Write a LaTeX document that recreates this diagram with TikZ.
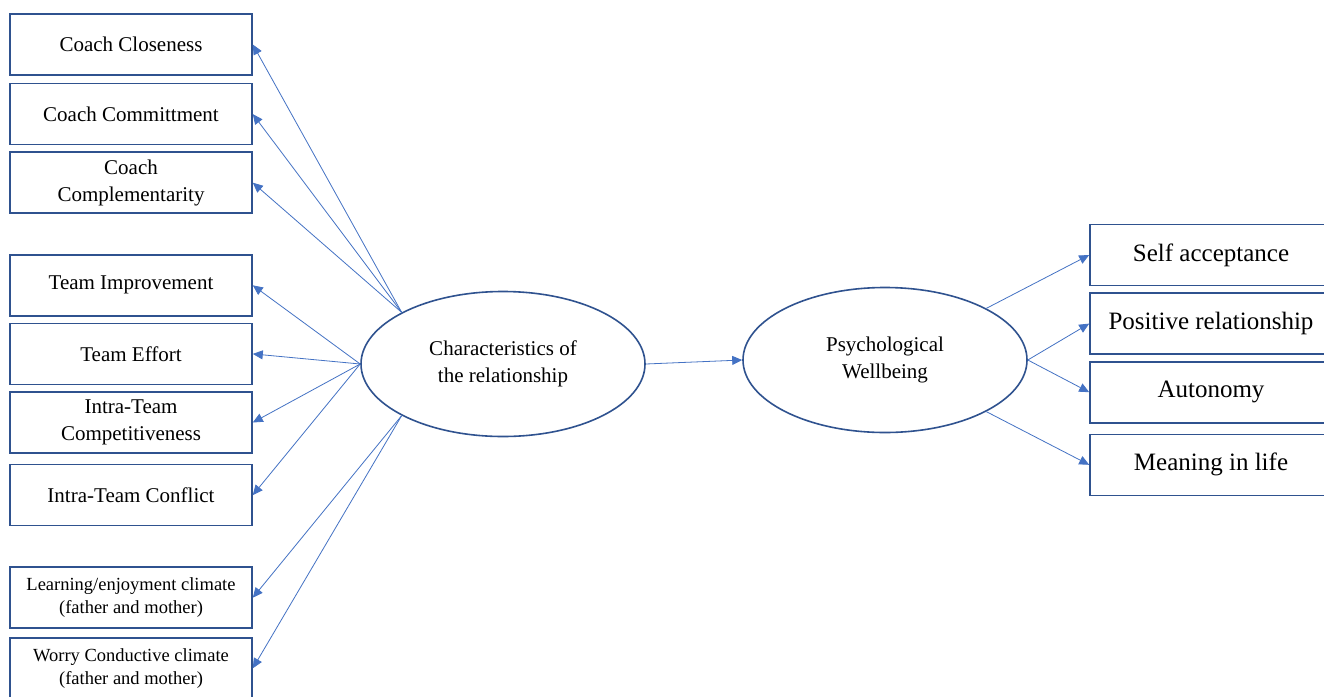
\documentclass[tikz,border=0pt]{standalone}
\usepackage{fontspec}
\setmainfont{Liberation Serif}
\usetikzlibrary{arrows.meta,positioning,shapes.geometric}
\definecolor{bdark}{HTML}{2F528F}
\definecolor{bline}{HTML}{4472C4}
\tikzset{
  box/.style={draw=bdark,fill=white,line width=1.6pt,minimum width=242pt,minimum height=61pt,inner sep=2pt,align=center,font=\fontsize{21}{27}\selectfont},
  rbox/.style={box,font=\fontsize{25}{30}\selectfont},
  sbox/.style={box,font=\fontsize{18.5}{23}\selectfont},
  lat/.style={ellipse,draw=bdark,fill=white,line width=1.6pt,minimum width=284pt,minimum height=145pt,inner sep=0pt,align=center,font=\fontsize{21}{27}\selectfont},
  arr/.style={-{Triangle[length=10pt,width=9pt]},line width=0.8pt,draw=bline},
}
\begin{document}
\begin{tikzpicture}[x=1pt,y=-1pt]
  \fill[white] (0,0) rectangle (1324,696);
  \useasboundingbox (0,0) rectangle (1324,696);
  % left side
  \node[box] (cc) at (131,44.5) {Coach Closeness};
  \node[box,below=7pt of cc] (cm) {Coach Committment};
  \node[box,below=6pt of cm] (cp) {Coach\\Complementarity};
  \node[box,below=40pt of cp] (ti) {Team Improvement};
  \node[box,below=6pt of ti] (te) {Team Effort};
  \node[box,below=6pt of te] (tc) {Intra-Team\\Competitiveness};
  \node[box,below=10pt of tc] (tf) {Intra-Team Conflict};
  \node[sbox,below=40pt of tf] (le) {Learning/enjoyment climate\\(father and mother)};
  \node[sbox,below=8pt of le] (wc) {Worry Conductive climate\\(father and mother)};
  % latent variables
  \node[lat] (char) at (503,364) {Characteristics of\\the relationship};
  \node[lat] (wb) at (885,360) {Psychological\\Wellbeing};
  % right side
  \node[rbox] (sa) at (1211,255) {Self acceptance};
  \node[rbox,below=6pt of sa] (pr) {Positive relationship};
  \node[rbox,below=6pt of pr] (au) {Autonomy};
  \node[rbox,below=10pt of au] (ml) {Meaning in life};
  % arrows
  \foreach \t in {cc,cm,cp} \draw[arr] (char.153) -- (\t.east);
  \foreach \t in {ti,te,tc,tf} \draw[arr] (char.west) -- (\t.east);
  \foreach \t in {le,wc} \draw[arr] (char.207) -- (\t.east);
  \draw[arr] (char.east) -- (wb.west);
  \draw[arr] (wb.27) -- (sa.west);
  \foreach \t in {pr,au} \draw[arr] (wb.east) -- (\t.west);
  \draw[arr] (wb.-27) -- (ml.west);
\end{tikzpicture}
\end{document}
